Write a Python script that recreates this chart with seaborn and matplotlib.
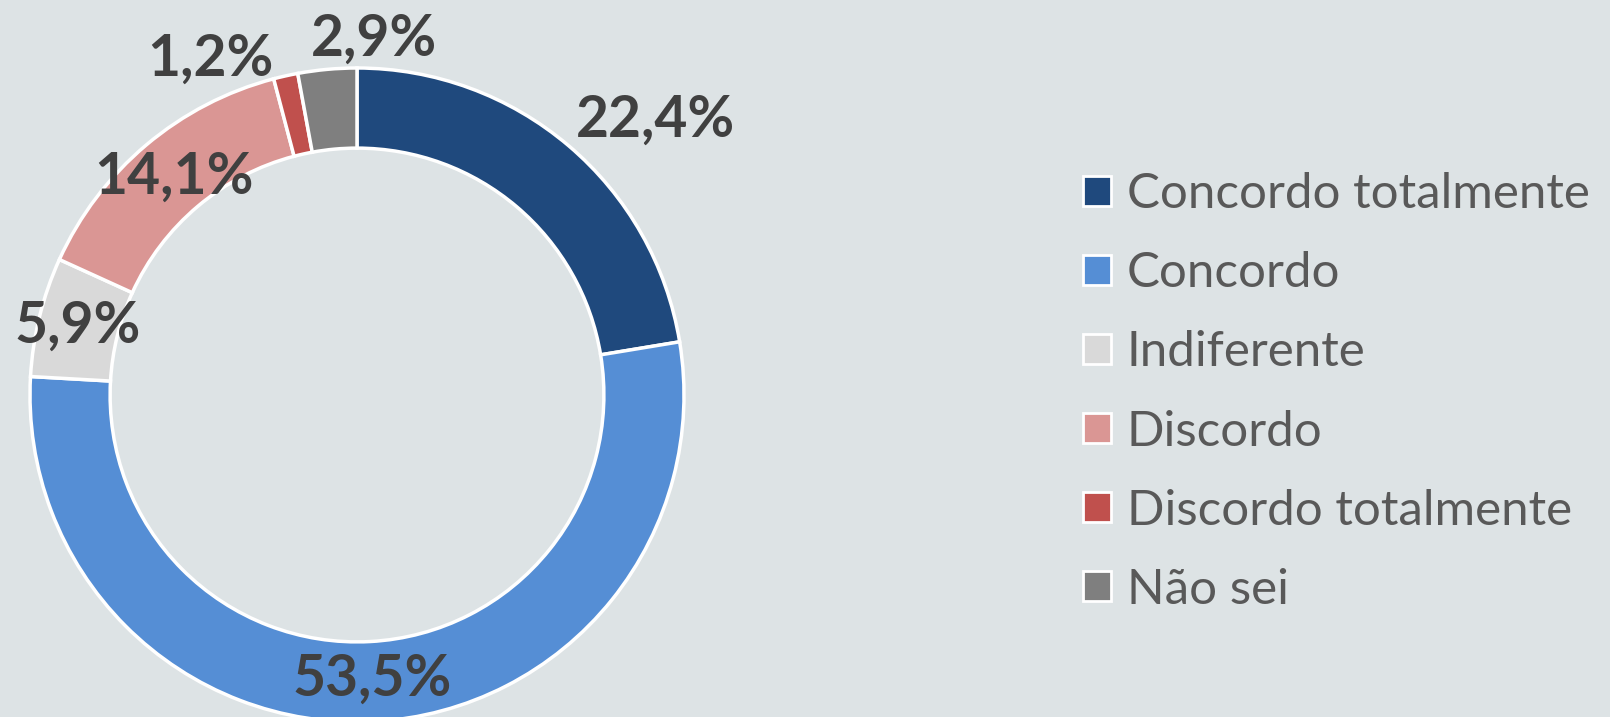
import numpy as np
import matplotlib
matplotlib.use('Agg')
import matplotlib.pyplot as plt
import matplotlib.patches as mpatches
import seaborn as sns

# dados
categorias = ['Concordo totalmente', 'Concordo', 'Indiferente', 'Discordo',
              'Discordo totalmente', 'Não sei']
percentuais = [22.4, 53.5, 5.9, 14.1, 1.2, 2.9]
rotulos = ['22,4%', '53,5%', '5,9%', '14,1%', '1,2%', '2,9%']

cores = sns.color_palette(['#1f497d', '#558ed5', '#d9d9d9', '#da9694', '#c0504d', '#7f7f7f'])

# posicao dos rotulos (raio relativo e ajuste de angulo, em graus)
raio_rot = [1.24, 0.87, 0.88, 0.87, 1.12, 1.09]
ajuste_ang = [-7, 0, 0, 0, 11, -8]

sns.set_theme(style='white')
plt.rcParams['font.family'] = ['Lato', 'DejaVu Sans']

fundo = '#dde3e5'
fig = plt.figure(figsize=(16.1, 7.17), dpi=100, facecolor=fundo)
ax = fig.add_axes([30 / 1610, -5 / 717, 654 / 1610, 654 / 717])
ax.set_facecolor(fundo)

wedges, _ = ax.pie(percentuais, colors=cores, startangle=90, counterclock=False,
                   radius=1, wedgeprops=dict(width=0.245, edgecolor='white', linewidth=2.5))
ax.set_xlim(-1, 1)
ax.set_ylim(-1, 1)
ax.set_aspect('equal')
ax.axis('off')

# rotulos de percentual
for w, txt, r, da in zip(wedges, rotulos, raio_rot, ajuste_ang):
    ang = np.deg2rad((w.theta1 + w.theta2) / 2 + da)
    ax.text(r * np.cos(ang), r * np.sin(ang), txt, ha='center', va='center',
            fontsize=41, fontweight='bold', color='#404040', clip_on=False)

# legenda
handles = [mpatches.Patch(facecolor=c, edgecolor='white', linewidth=2) for c in cores]
fig.legend(handles, categorias, loc='center left', bbox_to_anchor=(1083 / 1610, 1 - 392 / 717),
           frameon=False, fontsize=35.5, labelcolor='#595959', handlelength=0.56,
           handleheight=0.56, handletextpad=0.33, labelspacing=0.71,
           borderpad=0, borderaxespad=0)

fig.savefig('out.png', dpi=100, facecolor=fundo)
